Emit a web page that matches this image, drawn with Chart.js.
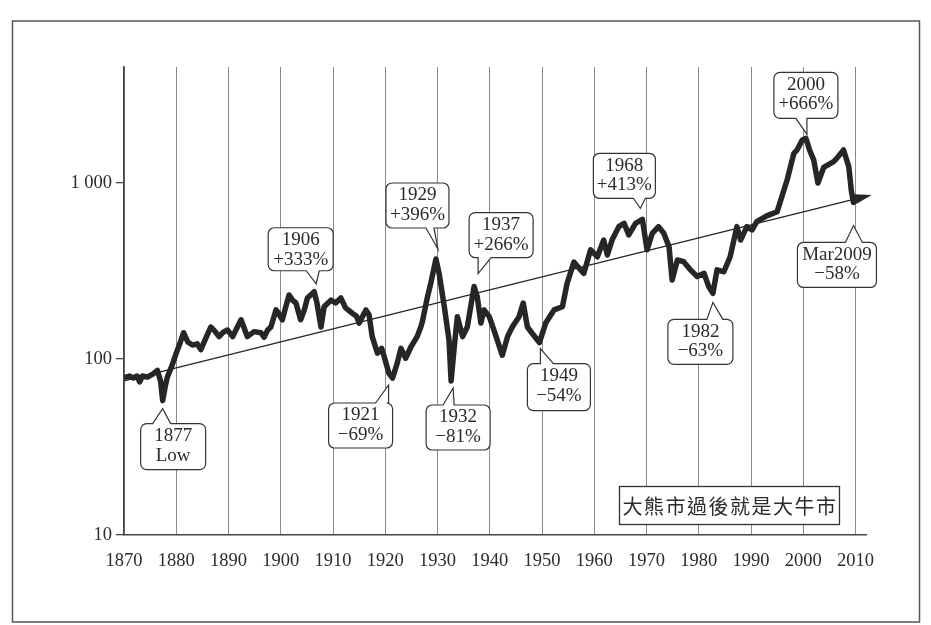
<!DOCTYPE html>
<html>
<head>
<meta charset="utf-8">
<script src="https://cdn.jsdelivr.net/npm/chart.js@4.4.1/dist/chart.umd.min.js"></script>
<style>
  html, body { margin: 0; padding: 0; background: #ffffff; }
  #wrap { width: 931px; height: 625px; position: relative; }
</style>
</head>
<body>
<div id="wrap"><canvas id="c"></canvas></div>
<script>
// ---------- data ----------
const years = [
  1870.4,1871.0,1871.8,1872.5,1873.0,1873.5,1874.5,1875.5,1876.4,1877.0,1877.4,1877.9,1878.3,1879.2,
  1880.0,1880.8,1881.4,1882.2,1883.1,1884.0,1884.7,1885.6,1886.6,1887.3,1888.2,1889.0,1889.8,
  1890.8,1891.6,1892.4,1893.0,1893.6,1894.9,1896.2,1896.8,1897.5,1898.1,1898.6,1899.1,1899.4,
  1900.3,1901.0,1901.6,1902.3,1902.9,1903.8,1904.5,1905.1,1906.4,1906.9,1907.7,1908.3,1909.6,
  1910.5,1911.5,1912.4,1913.7,1914.5,1915.0,1916.3,1916.9,1917.5,1918.5,1919.3,1919.8,
  1920.7,1921.4,1922.3,1923.0,1923.9,1924.9,1926.1,1926.8,1927.1,1928.0,1928.7,1929.7,
  1930.3,1931.3,1932.2,1932.6,1933.2,1933.8,1934.8,1935.7,1937.0,1937.6,1938.3,1938.9,1939.9,
  1940.8,1942.4,1943.4,1944.3,1945.6,1946.4,1947.2,1948.1,1949.5,
  1950.7,1952.3,1953.9,1954.8,1956.1,1957.4,1958.0,1959.3,
  1960.6,1961.8,1962.5,1963.4,1964.7,1965.7,1966.6,1967.9,1969.2,
  1970.1,1971.1,1972.3,1973.3,1974.3,1974.9,1975.9,1977.1,1978.4,1979.7,
  1981.0,1981.9,1982.7,1983.5,1984.8,1986.0,1987.3,1988.0,1989.2,
  1990.2,1991.1,1993.0,1995.0,1996.9,1998.2,1998.8,1999.8,
  2000.5,2001.2,2002.0,2002.8,2003.9,2005.8,2006.4,2007.7,2008.7,2009.2,2009.6
];
const index = [
  79,80,78,80,74,80,79,82,86,75,58,70,79,92,
  108,125,141,125,120,122,113,130,152,145,134,142,146,
  134,150,167,150,134,143,141,133,146,152,170,190,185,
  167,200,231,215,208,167,190,222,241,210,152,198,216,
  208,222,195,182,175,160,190,178,134,108,115,103,
  83,78,95,115,101,117,134,152,163,220,269,370,
  307,198,128,75,117,174,134,152,258,226,160,190,174,
  146,105,134,152,174,208,152,140,124,
  160,190,198,269,355,320,307,417,
  381,474,390,474,565,590,507,590,622,
  417,518,565,518,435,281,365,357,321,294,
  307,258,236,321,313,381,565,474,565,
  541,603,650,687,1040,1475,1540,1755,
  1793,1540,1350,1000,1225,1322,1380,1540,1238,900,775
];
const trendYears = [1870, 2012.7];
const trendValues = [75, 850];
const xTickYears = [1870,1880,1890,1900,1910,1920,1930,1940,1950,1960,1970,1980,1990,2000,2010];
const yTickValues = [10, 100, 1000];

// callouts: label lines and the data point they point at
const calloutText = [
  ["1877","Low"], ["1906","+333%"], ["1929","+396%"], ["1937","+266%"],
  ["1921","\u221269%"], ["1932","\u221281%"], ["1949","\u221254%"], ["1968","+413%"],
  ["1982","\u221263%"], ["2000","+666%"], ["Mar2009","\u221258%"]
];
const calloutYear  = [1877.4, 1906.4, 1929.7, 1937.0, 1921.4, 1932.6, 1949.5, 1969.2, 1982.7, 2000.5, 2009.6];
const calloutValue = [58, 241, 370, 258, 78, 75, 124, 622, 236, 1793, 775];
const noteText = "大熊市過後就是大牛市";

// ---------- layout of the callout boxes (pixels, relative to the pointer tip) ----------
// [tipDx, tipDy, boxLeft, boxTop, boxW, boxH, base0, base1]
const calloutLayout = [
  [0, 8, -22, 15, 65, 46, -10, 8],
  [2, -8, -48, -56, 65, 43, -10, 3],
  [2, -10, -52, -66, 63, 45, -12, -4],
  [4, -13, -9, -61, 64, 45, 0, 13],
  [-4, 7, -60, 18, 64, 45, -13, 0],
  [2, 7, -27, 17, 64, 45, -10, 1],
  [1, 6, -13, 15, 63, 47, 0, 13],
  [-2, -11, -47, -55, 62, 45, -7, 5],
  [0, 9, -45, 17, 65, 45, -6, 10],
  [1, -4, -33, -62, 64, 46, -11, 0],
  [0, 23, -56, 17, 79, 45, -8, 9]
];

const SERIF = "'Liberation Serif', 'DejaVu Serif', serif";
const INK = '#262626';

const mainData = years.map((y, i) => ({x: y, y: index[i]}));
const trendData = trendYears.map((y, i) => ({x: y, y: trendValues[i]}));

const framePlugin = {
  id: 'frame',
  beforeDraw(chart) {
    const ctx = chart.ctx;
    ctx.save();
    ctx.fillStyle = '#ffffff';
    ctx.fillRect(0, 0, chart.width, chart.height);
    ctx.strokeStyle = '#555';
    ctx.lineWidth = 1.5;
    ctx.strokeRect(12.5, 21, 907, 601);
    ctx.restore();
  }
};

function calloutPath(ctx, bx, by, w, h, r, tipX, tipY, b0, b1, onTop) {
  ctx.beginPath();
  ctx.moveTo(bx + r, by);
  if (onTop) {
    ctx.lineTo(b0, by);
    ctx.lineTo(tipX, tipY);
    ctx.lineTo(b1, by);
  }
  ctx.lineTo(bx + w - r, by);
  ctx.arcTo(bx + w, by, bx + w, by + r, r);
  ctx.lineTo(bx + w, by + h - r);
  ctx.arcTo(bx + w, by + h, bx + w - r, by + h, r);
  if (!onTop) {
    ctx.lineTo(b1, by + h);
    ctx.lineTo(tipX, tipY);
    ctx.lineTo(b0, by + h);
  }
  ctx.lineTo(bx + r, by + h);
  ctx.arcTo(bx, by + h, bx, by + h - r, r);
  ctx.lineTo(bx, by + r);
  ctx.arcTo(bx, by, bx + r, by, r);
  ctx.closePath();
}

const annotPlugin = {
  id: 'annot',
  afterDatasetsDraw(chart) {
    const ctx = chart.ctx;
    const xs = chart.scales.x, ys = chart.scales.y;
    ctx.save();
    // arrow head on trend line
    const p0x = xs.getPixelForValue(trendYears[0]), p0y = ys.getPixelForValue(trendValues[0]);
    const p1x = xs.getPixelForValue(trendYears[1]), p1y = ys.getPixelForValue(trendValues[1]);
    const ang = Math.atan2(p1y - p0y, p1x - p0x);
    const L = 15, W = 5;
    ctx.fillStyle = INK;
    ctx.beginPath();
    ctx.moveTo(p1x + 2, p1y + 2 * Math.tan(ang));
    ctx.lineTo(p1x - L * Math.cos(ang) + W * Math.sin(ang), p1y - L * Math.sin(ang) - W * Math.cos(ang));
    ctx.lineTo(p1x - L * Math.cos(ang) - W * Math.sin(ang), p1y - L * Math.sin(ang) + W * Math.cos(ang));
    ctx.closePath();
    ctx.fill();

    // callouts
    ctx.font = "19px " + SERIF;
    ctx.textAlign = 'center';
    ctx.textBaseline = 'middle';
    calloutText.forEach((lines, i) => {
      const lay = calloutLayout[i];
      const ax = xs.getPixelForValue(calloutYear[i]);
      const ay = ys.getPixelForValue(calloutValue[i]);
      const tipX = ax + lay[0], tipY = ay + lay[1];
      const bx = tipX + lay[2], by = tipY + lay[3], w = lay[4], h = lay[5];
      const onTop = lay[3] > 0;
      calloutPath(ctx, bx, by, w, h, 6, tipX, tipY, tipX + lay[6], tipX + lay[7], onTop);
      ctx.fillStyle = '#ffffff';
      ctx.fill();
      ctx.strokeStyle = '#333';
      ctx.lineWidth = 1.2;
      ctx.stroke();
      ctx.fillStyle = '#2b2b2b';
      ctx.fillText(lines[0], bx + w / 2, by + 12.5);
      ctx.fillText(lines[1], bx + w / 2, by + 32);
    });

    // note box
    const ca = chart.chartArea;
    const nw = 220, nh = 38;
    const nx = ca.right - 27 - nw, ny = ca.bottom - 11 - nh;
    ctx.fillStyle = '#ffffff';
    ctx.fillRect(nx, ny, nw, nh);
    ctx.strokeStyle = '#333';
    ctx.lineWidth = 1.3;
    ctx.strokeRect(nx + 0.5, ny + 0.5, nw, nh);
    ctx.fillStyle = '#2b2b2b';
    ctx.font = "20px 'Noto Sans CJK TC', 'Noto Sans CJK SC', sans-serif";
    try { ctx.letterSpacing = '1.5px'; } catch (e) {}
    ctx.fillText(noteText, nx + nw / 2 + 1, ny + nh / 2 + 1);
    ctx.restore();
  }
};

new Chart(document.getElementById('c'), {
  type: 'line',
  data: {
    datasets: [
      {
        data: mainData,
        borderColor: INK,
        borderWidth: 5.5,
        pointRadius: 0,
        tension: 0,
        borderJoinStyle: 'round',
        borderCapStyle: 'round',
        order: 0
      },
      {
        data: trendData,
        borderColor: INK,
        borderWidth: 1.3,
        pointRadius: 0,
        clip: false,
        order: 1
      }
    ]
  },
  options: {
    responsive: true,
    maintainAspectRatio: false,
    animation: false,
    events: [],
    layout: { padding: { top: 67, right: 65, left: 0, bottom: 0 } },
    plugins: { legend: { display: false }, tooltip: { enabled: false } },
    scales: {
      x: {
        type: 'linear',
        min: 1870,
        max: 2012,
        afterFit(s) { s.height = 90; },
        afterBuildTicks(s) { s.ticks = xTickYears.map(v => ({value: v})); },
        ticks: {
          autoSkip: false, maxRotation: 0, padding: 15,
          color: '#2b2b2b',
          font: { family: SERIF, size: 18.5 },
          callback: v => String(v)
        },
        grid: { color: '#8a8a8a', lineWidth: 1, drawTicks: false },
        border: { display: true, color: '#444', width: 1.6 }
      },
      y: {
        type: 'logarithmic',
        min: 10,
        max: 4560,
        afterFit(s) { s.width = 124; },
        afterBuildTicks(s) { s.ticks = yTickValues.map(v => ({value: v})); },
        ticks: {
          padding: 4,
          color: '#2b2b2b',
          font: { family: SERIF, size: 18.5 },
          callback: v => String(v).replace(/\B(?=(\d{3})+(?!\d))/g, ' ')
        },
        grid: { drawOnChartArea: false, drawTicks: true, tickLength: 8, color: '#444', lineWidth: 1.3 },
        border: { display: true, color: '#444', width: 1.6 }
      }
    }
  },
  plugins: [framePlugin, annotPlugin]
});
</script>
</body>
</html>
